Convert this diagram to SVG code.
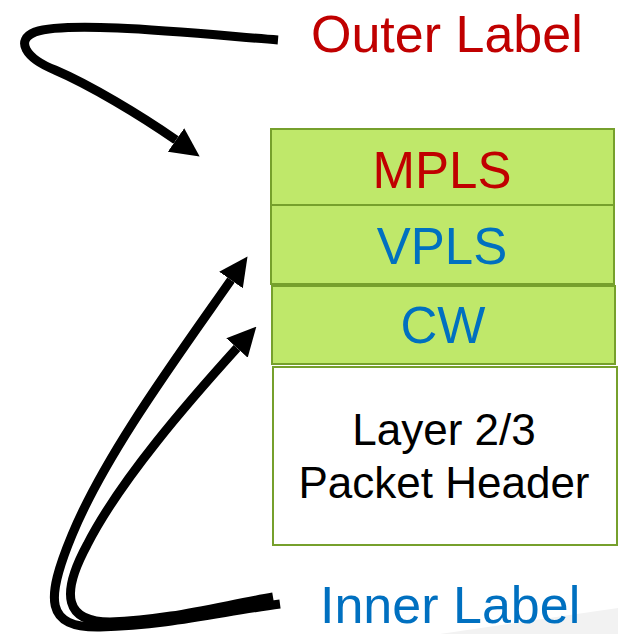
<svg xmlns="http://www.w3.org/2000/svg" width="618" height="634" viewBox="0 0 618 634">
<style>
.box{fill:#bfe86a;stroke:#76a02c;stroke-width:2}
.wbox{fill:#ffffff;stroke:#76a02c;stroke-width:2}
.t{font-family:"Liberation Sans",Arial,sans-serif;text-anchor:middle}
.lbl{font-family:"Liberation Sans",Arial,sans-serif;font-size:52px}
.conn{fill:none;stroke:#000;stroke-width:9;marker-end:url(#ah)}
</style>
<defs>
<marker id="ah" viewBox="0 0 10 10" refX="0" refY="5" markerWidth="3.2" markerHeight="3.2" orient="auto" markerUnits="strokeWidth">
<path d="M0,0 L10,5 L0,10 Z" fill="#000"/>
</marker>
</defs>
<polygon points="440,634 618,608 618,634" fill="#f2f2f2"/>
<g id="mpls"><rect class="box" x="271" y="129" width="343" height="76"/><text class="t" x="442" y="188" font-size="51" fill="#c00000">MPLS</text></g>
<g id="vpls"><rect class="box" x="271" y="205" width="343" height="79"/><text class="t" x="442" y="264" font-size="51" fill="#0070c0">VPLS</text></g>
<g id="cw"><rect class="box" x="272" y="286" width="343" height="78"/><text class="t" x="443" y="343" font-size="51" fill="#0070c0">CW</text></g>
<g id="header"><rect class="wbox" x="273" y="367" width="344" height="178"/><text class="t" x="444" y="445" font-size="44" fill="#000">Layer 2/3</text><text class="t" x="444" y="498" font-size="44" fill="#000">Packet Header</text></g>
<g id="outer-label"><text class="lbl" x="311" y="52" fill="#c00000">Outer Label</text></g>
<g id="inner-label"><text class="lbl" x="320" y="623" fill="#0070c0">Inner Label</text></g>
<g id="connectors">
<path class="conn" d="M278,40 C200,34 70,20 35,32 C15,40 25,58 55,70 C90,85 140,115 176,140"/>
<path class="conn" d="M280,604 C220,612 170,625 100,627 C45,628 45,600 72,535 C105,455 175,360 231,280"/>
<path class="conn" d="M273,597 C220,606 170,620 110,622 C65,622 60,595 87,545 C120,480 190,400 237,348"/>
</g>
</svg>
